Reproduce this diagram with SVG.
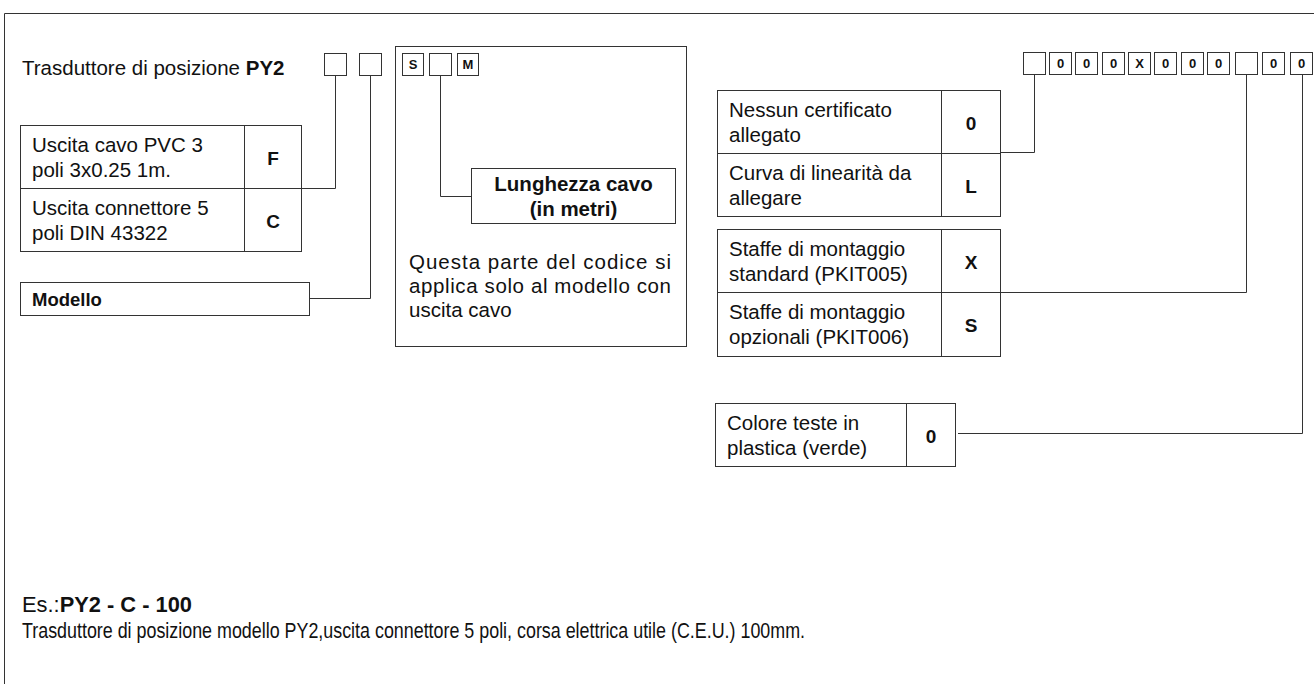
<svg xmlns="http://www.w3.org/2000/svg" width="1314" height="684" viewBox="0 0 1314 684">
<style>
.t{font-family:"Liberation Sans",Arial,sans-serif;font-size:20.5px;fill:#111}
.b{font-weight:bold}
.c{text-anchor:middle}
.k{font-size:19px}
.ex{font-size:22px}
.sq{font-family:"Liberation Sans",Arial,sans-serif;font-size:13px;font-weight:bold;text-anchor:middle;fill:#111}
.box{fill:#fff;stroke:#333;stroke-width:1}
.ln{fill:none;stroke:#333;stroke-width:1}
</style>
<rect x="0" y="0" width="1314" height="684" fill="#fff"/>
<path class="ln" d="M4.5,684 V13.5 H1314"/>

<g id="title">
<text class="t" x="22" y="75">Trasduttore di posizione <tspan class="b">PY2</tspan></text>
<rect class="box" x="324.5" y="53.5" width="22" height="22"/>
<rect class="box" x="359.5" y="53.5" width="22" height="22"/>
</g>

<g id="table-output">
<rect class="box" x="20.5" y="125.5" width="281" height="126"/>
<path class="ln" d="M20.5,188.5 H301.5 M244.5,125.5 V251.5"/>
<text class="t" x="32" y="152">Uscita cavo PVC 3</text>
<text class="t" x="32" y="177">poli 3x0.25 1m.</text>
<text class="t b c k" x="273" y="165">F</text>
<text class="t" x="32" y="215">Uscita connettore 5</text>
<text class="t" x="32" y="240">poli DIN 43322</text>
<text class="t b c k" x="273" y="228">C</text>
</g>

<g id="modello">
<rect class="box" x="20.5" y="282.5" width="289" height="33"/>
<text class="t b" x="32" y="306" style="font-size:18.5px">Modello</text>
</g>

<g id="cable-section">
<rect class="box" x="395.5" y="46.5" width="291" height="300"/>
<rect class="box" x="402.5" y="53.5" width="21" height="22"/>
<text class="sq" x="413" y="69">S</text>
<rect class="box" x="429.5" y="53.5" width="22" height="22"/>
<rect class="box" x="457.5" y="53.5" width="21" height="22"/>
<text class="sq" x="468" y="69">M</text>
<rect class="box" x="471.5" y="168.5" width="204" height="55"/>
<text class="t b c" x="573.5" y="191">Lunghezza cavo</text>
<text class="t b c" x="573.5" y="216">(in metri)</text>
<text class="t" x="409" y="269" textLength="262" lengthAdjust="spacing">Questa parte del codice si</text>
<text class="t" x="409" y="293" textLength="262" lengthAdjust="spacing">applica solo al modello con</text>
<text class="t" x="409" y="317">uscita cavo</text>
</g>

<g id="code-boxes">
<rect class="box" x="1023.5" y="52.5" width="22" height="22"/>
<rect class="box" x="1049.5" y="52.5" width="22" height="22"/><text class="sq" x="1060.5" y="68">0</text>
<rect class="box" x="1075.5" y="52.5" width="22" height="22"/><text class="sq" x="1086.5" y="68">0</text>
<rect class="box" x="1102.5" y="52.5" width="22" height="22"/><text class="sq" x="1113.5" y="68">0</text>
<rect class="box" x="1128.5" y="52.5" width="22" height="22"/><text class="sq" x="1139.5" y="68">X</text>
<rect class="box" x="1154.5" y="52.5" width="22" height="22"/><text class="sq" x="1165.5" y="68">0</text>
<rect class="box" x="1181.5" y="52.5" width="22" height="22"/><text class="sq" x="1192.5" y="68">0</text>
<rect class="box" x="1207.5" y="52.5" width="22" height="22"/><text class="sq" x="1218.5" y="68">0</text>
<rect class="box" x="1235.5" y="52.5" width="22" height="22"/>
<rect class="box" x="1262.5" y="52.5" width="22" height="22"/><text class="sq" x="1273.5" y="68">0</text>
<rect class="box" x="1290.5" y="52.5" width="22" height="22"/><text class="sq" x="1301.5" y="68">0</text>
</g>

<g id="table-certificate">
<rect class="box" x="717.5" y="90.5" width="283" height="126"/>
<path class="ln" d="M717.5,153.5 H1000.5 M941.5,90.5 V216.5"/>
<text class="t" x="729" y="117">Nessun certificato</text>
<text class="t" x="729" y="142">allegato</text>
<text class="t b c k" x="971" y="130">0</text>
<text class="t" x="729" y="180">Curva di linearità da</text>
<text class="t" x="729" y="205">allegare</text>
<text class="t b c k" x="971" y="193">L</text>
</g>

<g id="table-brackets">
<rect class="box" x="717.5" y="229.5" width="283" height="127"/>
<path class="ln" d="M717.5,292.5 H1000.5 M941.5,229.5 V356.5"/>
<text class="t" x="729" y="256">Staffe di montaggio</text>
<text class="t" x="729" y="281">standard (PKIT005)</text>
<text class="t b c k" x="971" y="269">X</text>
<text class="t" x="729" y="319">Staffe di montaggio</text>
<text class="t" x="729" y="344">opzionali (PKIT006)</text>
<text class="t b c k" x="971" y="332">S</text>
</g>

<g id="table-color">
<rect class="box" x="715.5" y="403.5" width="240" height="63"/>
<path class="ln" d="M906.5,403.5 V466.5"/>
<text class="t" x="727" y="430">Colore teste in</text>
<text class="t" x="727" y="455">plastica (verde)</text>
<text class="t b c k" x="931" y="443">0</text>
</g>

<g id="connectors">
<path class="ln" d="M335.5,75.5 V188.5 H301.5"/>
<path class="ln" d="M370.5,75.5 V298.5 H309.5"/>
<path class="ln" d="M440.5,75.5 V196.5 H471.5"/>
<path class="ln" d="M1034.5,74.5 V152.5 H1000.5"/>
<path class="ln" d="M1246.5,74.5 V292.5 H1000.5"/>
<path class="ln" d="M1302.5,74.5 V433.5 H958"/>
</g>

<g id="example">
<text class="t ex" x="22" y="612" textLength="170" lengthAdjust="spacingAndGlyphs">Es.:<tspan class="b">PY2 - C - 100</tspan></text>
<text class="t ex" x="22" y="638" textLength="783" lengthAdjust="spacingAndGlyphs">Trasduttore di posizione modello PY2,uscita connettore 5 poli, corsa elettrica utile (C.E.U.) 100mm.</text>
</g>
</svg>
